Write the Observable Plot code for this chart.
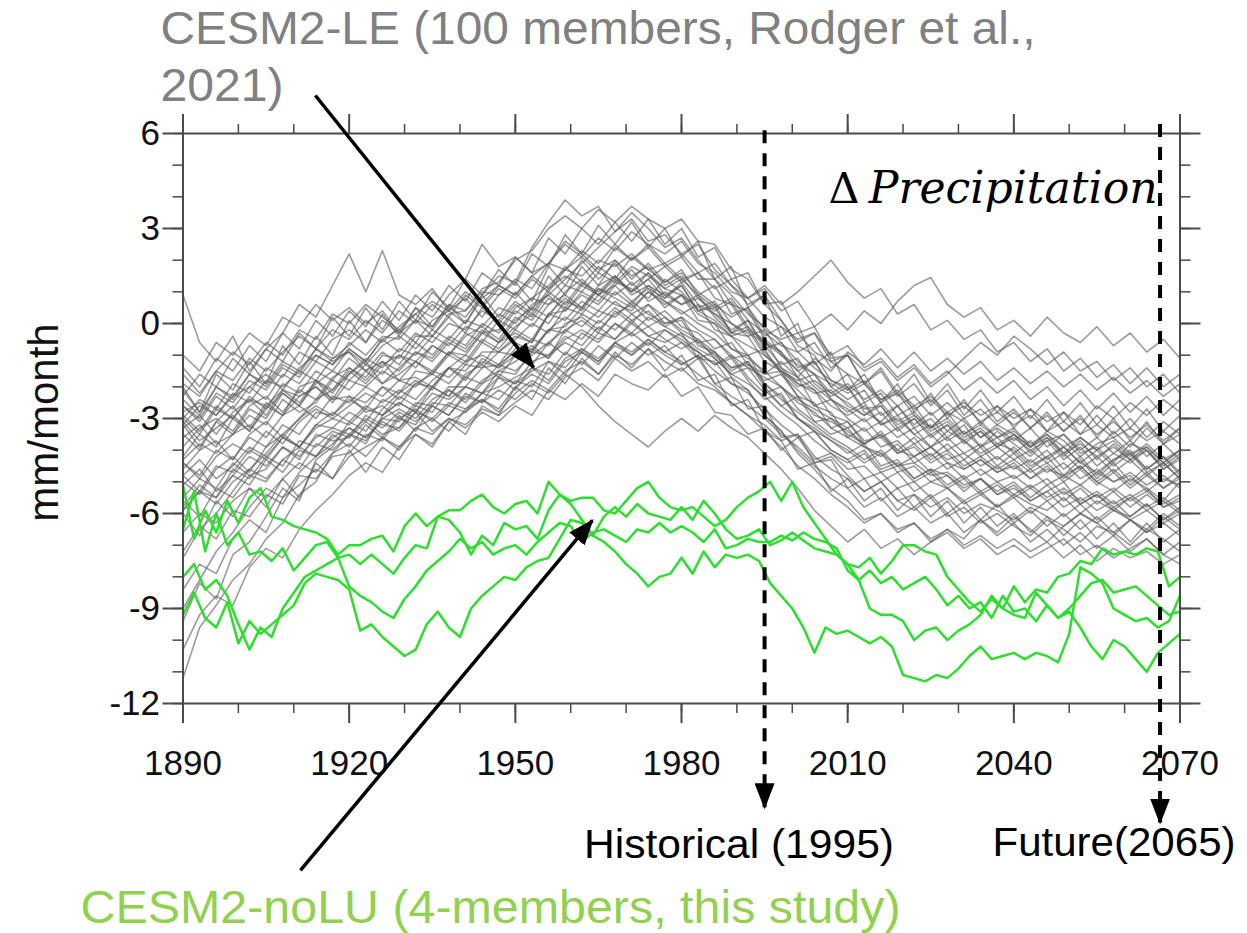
<!DOCTYPE html>
<html><head><meta charset="utf-8">
<script src="https://cdn.jsdelivr.net/npm/d3@7"></script>
<script src="https://cdn.jsdelivr.net/npm/@observablehq/plot@0.6"></script>
<style>html,body{margin:0;padding:0;background:#fff;} #chart svg{display:block;}</style>
</head><body><div id="chart"></div>
<script>
// ---------- data ----------
const yearsLE = d3.range(1890, 2071, 3);     // sampling grid of the LE members
const yearsNoLU = d3.range(1890, 2071, 2);   // sampling grid of the noLU members

// CESM2-LE members (read approx. from the picture; mm/month anomalies)
const leMembers = [
[0.9,-0.6,-1.2,-0.4,-1.5,-0.8,-0.3,0.6,0.2,1.2, 2.2,1.0,2.3,0.9,0.6,1.1,0.4,0.8,0.2,0.9, 1.3,0.7,1.8,1.2,2.0,1.4,1.9,1.2,1.6,0.9, 1.2,0.4,0.6,-0.3,0.1,-0.8,-0.6,-1.4,-1.2,-2.0, -1.6,-2.5,-2.2,-2.9,-2.6,-3.3,-2.8,-3.5,-3.1,-3.6, -3.3,-3.9,-3.5,-4.1,-3.6,-4.0,-3.4,-3.9,-3.3,-3.8,-3.5],
[-3.2,-3.9,-3.1,-2.6,-3.3,-2.5,-2.9,-2.0,-1.8,-2.4, -1.6,-1.2,-1.9,-1.4,-0.9,-1.1,-0.5,-0.8,-0.2,-0.6, 0.1,0.5,0.2,1.0,1.4,0.9,1.2,1.7,1.1,0.8, 1.3,0.6,0.3,-0.2,0.1,-0.7,-1.3,-1.1,-1.9,-2.3, -2.0,-2.8,-3.1,-2.6,-3.3,-3.0,-3.6,-3.2,-3.9,-3.4, -3.8,-4.2,-3.7,-3.5,-4.1,-3.9,-4.4,-3.8,-4.0,-4.6,-4.2],
[-5.8,-5.1,-5.5,-4.6,-4.9,-4.2,-4.5,-3.7,-3.9,-3.4, -3.6,-2.9,-3.2,-3.3,-2.6,-2.8,-2.1,-2.5,-1.9,-1.6, -1.9,-1.2,-1.0,-0.6,-0.9,-0.3,-0.5,0.1,-0.4,-0.2, -0.6,-0.9,-1.3,-1.1,-1.8,-2.4,-2.2,-3.0,-3.4,-3.7, -4.1,-3.8,-4.5,-4.3,-4.9,-4.6,-4.8,-5.2,-4.9,-5.4, -5.1,-5.6,-5.3,-5.0,-5.7,-5.4,-5.9,-5.5,-5.2,-5.8,-5.6],
[-2.1,-2.8,-2.0,-2.4,-1.6,-1.9,-1.2,-1.5,-0.8,-1.1, -0.7,-0.2,-0.6,-0.1,0.3,-0.2,0.5,0.2,0.9,1.5, 1.3,2.4,3.2,3.9,3.4,3.7,2.9,3.3,2.6,2.8, 2.2,2.5,1.7,1.2,0.6,0.9,0.1,-0.6,-0.3,-1.2, -1.6,-1.9,-2.5,-2.2,-2.9,-3.3,-2.8,-3.1,-3.6,-3.2, -3.5,-3.9,-3.4,-3.7,-4.2,-3.8,-3.6,-4.1,-3.9,-4.4,-4.0],
[-11.2,-9.6,-8.9,-8.1,-7.6,-6.8,-6.3,-5.4,-5.0,-4.1, -3.5,-3.8,-2.9,-2.5,-2.8,-2.0,-2.3,-1.6,-1.3,-1.7, -1.0,-0.7,-1.1,-0.2,0.1,-0.3,0.4,0.0,0.6,0.2, -0.2,-0.5,-0.9,-1.4,-1.2,-2.0,-2.6,-2.3,-3.1,-3.5, -3.3,-3.9,-4.2,-3.8,-4.4,-4.1,-4.6,-4.3,-4.8,-4.5, -4.9,-4.6,-5.1,-4.8,-4.5,-5.0,-5.3,-4.9,-5.2,-5.6,-5.0],
[-9.4,-8.2,-8.7,-7.3,-6.9,-6.1,-5.2,-5.6,-4.3,-3.9, -3.1,-3.4,-2.7,-2.2,-1.8,-2.1,-1.4,-1.0,-1.3,-0.6, -0.3,-0.6,0.3,0.8,0.4,1.1,0.9,1.3,0.7,1.0, 0.6,0.9,0.2,-0.3,-0.1,-0.9,-1.5,-1.8,-1.6,-2.4, -2.8,-2.5,-3.2,-3.0,-3.5,-3.9,-3.4,-3.7,-4.1,-3.8, -4.0,-4.5,-4.2,-3.9,-4.4,-4.7,-4.3,-4.0,-4.6,-4.2,-4.8],
[-8.4,-7.6,-7.9,-6.8,-6.2,-6.6,-5.5,-5.1,-4.6,-4.9, -4.2,-3.9,-3.6,-4.0,-3.3,-3.0,-3.4,-2.7,-2.4,-2.8, -2.2,-1.8,-2.1,-1.5,-1.2,-1.6,-1.0,-1.3,-0.8,-1.2, -1.5,-1.1,-1.9,-2.3,-2.6,-3.0,-3.5,-3.9,-4.4,-4.2, -4.8,-5.3,-5.0,-5.6,-5.9,-5.5,-6.1,-5.8,-6.3,-6.0, -6.4,-6.7,-6.2,-6.5,-6.9,-6.4,-6.6,-7.0,-6.5,-6.8,-7.2],
[-1.9,-2.3,-1.5,-1.8,-1.1,-1.5,-0.9,-0.4,-0.8,-0.2, -0.5,0.1,-0.3,0.4,0.0,0.6,0.2,0.9,0.5,1.1, 0.8,1.4,1.0,1.7,2.1,1.6,2.4,2.0,2.5,1.9, 2.2,1.6,1.9,1.2,0.8,1.1,0.4,0.7,-0.1,0.3, -0.2,0.4,0.0,0.7,1.2,1.45,0.6,0.2,0.5,-0.2, 0.1,-0.4,0.2,-0.3,-0.6,-0.1,-0.7,-0.3,-0.9,-0.5,-1.1],
[-4.2,-3.5,-3.9,-3.0,-3.4,-2.7,-2.2,-2.6,-1.9,-1.5, -1.8,-1.3,-1.6,-1.0,-1.2,-0.7,-1.0,-0.4,-0.1,-0.5, 0.2,-0.1,0.6,0.9,0.5,1.2,1.5,1.0,1.4,1.8, 1.3,1.6,1.1,1.4,0.8,1.2,0.6,1.0,1.5,2.0, 1.3,0.8,1.1,0.3,0.6,-0.2,0.1,-0.5,-0.2,-0.9, -0.6,-1.2,-0.8,-1.5,-1.1,-1.7,-1.3,-1.9,-1.4,-2.0,-1.6],
[-5.1,-4.6,-5.3,-4.8,-4.2,-4.5,-3.9,-4.2,-3.6,-3.3, -3.5,-3.0,-3.3,-2.8,-3.1,-2.6,-2.9,-2.3,-2.5,-2.1, -2.4,-1.9,-2.2,-1.6,-2.0,-2.6,-3.1,-3.5,-3.9,-3.4, -3.0,-3.4,-2.9,-3.3,-3.6,-4.1,-4.6,-5.2,-5.9,-6.4, -6.9,-6.5,-7.1,-6.8,-7.3,-6.9,-6.5,-6.8,-6.2,-6.6, -6.1,-6.5,-6.9,-6.4,-6.0,-6.3,-6.7,-6.2,-6.5,-6.0,-6.4],
[-2.9,-3.4,-2.6,-3.0,-2.3,-2.7,-1.9,-2.2,-1.5,-1.8, -1.1,-1.5,-0.9,-1.3,-0.6,-1.0,-0.4,-0.7,0.0,-0.3, 0.4,0.1,0.8,0.5,1.2,0.9,1.4,1.0,1.6,1.1, 0.9,0.5,0.7,0.0,-0.4,-0.2,-1.0,-1.5,-1.2,-2.0, -2.4,-2.1,-2.9,-2.6,-3.2,-2.8,-3.4,-3.0,-3.6,-3.3, -3.7,-3.3,-3.9,-3.5,-4.0,-3.6,-4.1,-3.7,-4.2,-3.8,-4.3],
[-4.6,-4.0,-3.7,-4.3,-3.5,-3.1,-3.6,-3.0,-2.6,-2.9, -2.3,-2.5,-2.0,-2.4,-1.9,-1.6,-1.9,-1.3,-1.4,-0.9, -1.0,-0.5,-0.7,0.0,0.2,-0.2,0.3,0.6,0.1,0.4, -0.1,-0.3,-0.8,-0.6,-1.3,-1.8,-1.6,-2.3,-2.9,-3.1, -3.4,-3.8,-3.5,-4.0,-4.2,-3.9,-4.4,-4.6,-4.3,-4.7, -4.5,-4.9,-4.6,-4.8,-5.1,-4.7,-5.0,-4.8,-5.3,-4.9,-5.1],
[-3.0,-2.4,-2.7,-1.9,-2.2,-1.4,-1.7,-0.9,-1.2,-0.5, -0.2,-0.6,0.1,-0.3,0.5,0.2,0.9,1.4,2.5,1.8, 2.1,1.6,1.9,2.6,2.2,1.7,2.0,1.5,1.8,1.2, 1.5,0.8,0.4,0.7,-0.1,-0.6,-0.9,-1.5,-2.0,-2.4, -2.7,-3.1,-2.8,-3.4,-3.0,-3.5,-3.2,-3.7,-3.4,-3.9, -3.6,-4.0,-3.7,-4.3,-3.9,-4.5,-4.1,-4.4,-4.0,-4.6,-4.3],
[-6.6,-6.0,-6.3,-5.6,-5.2,-5.5,-4.9,-4.4,-4.7,-4.1, -3.8,-4.2,-3.6,-3.9,-3.3,-3.5,-3.0,-3.2,-2.7,-2.9, -2.5,-2.1,-2.4,-1.7,-1.4,-1.8,-1.1,-1.5,-1.2,-1.7, -1.4,-1.9,-2.1,-2.5,-2.9,-3.2,-3.7,-3.5,-4.2,-4.6, -4.9,-5.3,-5.0,-5.6,-5.4,-5.8,-5.5,-6.0,-5.7,-5.9, -6.2,-5.8,-6.1,-6.4,-6.0,-6.3,-5.9,-6.2,-6.6,-6.1,-6.5],
[-2.6,-3.1,-2.3,-2.7,-2.0,-1.6,-2.1,-1.4,-1.0,-1.3, -0.8,-1.2,-0.5,-0.9,-0.3,-0.6,0.0,-0.2,0.4,0.1, 0.7,0.3,1.1,1.5,1.2,1.8,1.4,2.1,1.7,1.3, 1.6,1.0,0.6,0.2,0.5,-0.2,-0.5,-0.3,-0.9,-1.2, -1.0,-1.5,-1.2,-1.8,-1.4,-2.0,-1.6,-1.1,-0.6,-1.0, -0.4,-0.8,-1.3,-0.9,-1.5,-1.2,-1.8,-1.4,-2.0,-1.6,-2.2],
[-5.0,-5.4,-4.6,-4.2,-4.7,-3.9,-3.5,-3.9,-3.2,-2.8, -3.1,-2.6,-2.9,-2.3,-2.6,-2.0,-2.3,-1.7,-1.9,-1.3, -1.5,-1.0,-0.6,-1.0,-0.3,-0.6,0.0,-0.4,-0.1,-0.5, -0.8,-0.5,-1.1,-1.6,-1.4,-2.1,-2.6,-3.0,-3.3,-3.7, -4.0,-4.4,-4.1,-4.7,-4.5,-5.0,-4.8,-5.3,-4.9,-5.4, -5.2,-5.6,-5.3,-5.8,-5.5,-5.9,-5.6,-6.1,-5.7,-6.2,-5.9],
[-3.6,-3.2,-3.8,-3.5,-2.9,-3.2,-2.4,-2.8,-2.5,-1.8, -2.1,-1.5,-1.9,-1.6,-1.2,-1.6,-1.0,-1.3,-0.6,-0.9, -0.5,0.0,-0.3,0.5,0.3,0.9,0.6,0.4,1.0,0.7, 0.3,0.6,-0.2,-0.4,-1.0,-0.8,-1.6,-2.1,-2.6,-2.4, -3.0,-3.4,-3.1,-3.6,-3.3,-3.9,-3.6,-4.1,-3.8,-4.3, -3.9,-4.4,-4.0,-4.6,-4.2,-4.8,-4.3,-4.1,-4.7,-4.4,-4.9],
[-7.4,-6.5,-6.0,-5.3,-4.6,-4.1,-3.5,-3.0,-2.4,-2.1, -1.6,-1.1,-1.4,-0.8,-1.0,-0.4,-0.7,-0.1,-0.3,0.3, 0.0,0.6,0.9,0.4,1.0,0.7,1.3,1.1,0.8,1.4, 1.0,0.4,0.1,-0.4,-0.7,-1.0,-1.4,-1.9,-2.2,-2.1, -2.6,-2.9,-2.5,-3.1,-2.8,-3.3,-3.0,-3.5,-3.2,-3.6, -3.4,-3.8,-3.5,-3.9,-3.6,-4.0,-3.7,-4.2,-3.8,-4.3,-4.0],
[-4.4,-4.9,-4.2,-3.8,-4.1,-3.4,-3.8,-3.1,-2.7,-3.0, -2.6,-2.2,-2.5,-2.1,-2.4,-1.8,-1.4,-1.7,-1.2,-1.4, -1.0,-1.3,-0.6,-0.2,-0.5,0.1,-0.2,0.3,-0.1,0.2, -0.3,-0.6,-1.0,-1.5,-1.2,-1.9,-2.4,-2.8,-3.2,-3.6, -3.9,-4.3,-4.0,-4.5,-4.2,-4.7,-4.4,-4.9,-4.6,-5.0, -4.8,-5.2,-4.9,-5.4,-5.1,-5.5,-5.2,-5.6,-5.3,-5.7,-5.4],
[-3.3,-2.9,-3.5,-2.8,-2.4,-2.9,-2.1,-2.5,-1.8,-2.2, -1.5,-1.9,-1.3,-1.0,-1.4,-0.7,-1.0,-0.3,-0.6,0.1, -0.2,0.5,0.9,1.4,1.9,2.4,2.9,3.5,3.0,2.4, 2.7,2.0,1.4,0.9,0.3,-0.1,-0.6,-1.2,-1.6,-2.2, -2.5,-2.9,-2.6,-3.2,-2.9,-3.4,-3.1,-3.6,-3.3,-3.8, -3.5,-3.9,-3.6,-4.1,-3.8,-4.2,-3.9,-4.3,-4.0,-4.5,-4.1],
[-5.9,-5.3,-5.7,-5.0,-4.6,-4.9,-4.3,-3.9,-4.2,-3.6, -3.3,-3.6,-3.1,-3.4,-2.8,-3.0,-2.5,-2.7,-2.2,-2.0, -1.7,-1.4,-1.8,-1.1,-0.8,-1.2,-0.6,-0.9,-0.5,-0.9, -1.2,-1.6,-2.0,-2.5,-2.9,-3.4,-3.9,-4.5,-4.9,-5.4, -5.8,-6.3,-6.0,-6.6,-6.3,-6.9,-6.6,-7.1,-6.8,-7.3, -7.0,-7.4,-7.1,-6.8,-7.3,-7.0,-7.4,-7.1,-6.8,-7.3,-7.6],
[-2.8,-2.5,-2.9,-2.2,-2.5,-1.8,-2.0,-1.5,-1.8,-1.1, -0.9,-1.3,-0.7,-0.4,-0.8,-0.2,-0.5,0.1,-0.1,0.5, 0.3,0.8,0.6,1.2,1.0,1.6,1.3,1.8,1.5,1.1, 1.4,0.9,0.5,0.8,0.1,-0.3,-0.7,-0.9,-1.4,-1.8, -2.1,-1.8,-2.4,-2.2,-2.7,-2.4,-2.9,-2.6,-3.1,-2.8, -3.2,-2.9,-3.4,-3.1,-3.5,-3.2,-3.6,-3.3,-3.7,-3.4,-3.8],
[-10.3,-9.2,-8.6,-8.9,-7.7,-7.1,-7.4,-6.5,-5.9,-5.4, -4.8,-4.4,-4.7,-3.9,-3.5,-3.8,-3.1,-2.8,-2.4,-2.7, -2.0,-1.6,-1.9,-1.2,-0.9,-1.3,-0.6,-0.3,-0.7,-0.2, -0.5,-0.9,-1.3,-1.0,-1.7,-2.2,-2.0,-2.7,-3.1,-3.0, -3.5,-3.8,-3.5,-4.1,-3.8,-4.3,-4.0,-4.5,-4.2,-4.6, -4.3,-4.7,-4.4,-4.9,-4.5,-5.0,-4.6,-5.1,-4.7,-5.2,-4.8],
[-3.9,-3.3,-3.0,-3.4,-2.6,-2.3,-2.8,-2.1,-2.4,-1.7, -1.4,-1.8,-1.2,-1.5,-0.9,-1.2,-0.6,-0.9,-0.3,-0.6, -0.1,0.3,0.0,0.7,0.5,1.1,0.8,0.5,1.0,0.6, 0.9,0.3,0.0,-0.4,-0.2,-1.0,-1.5,-1.9,-2.1,-2.6, -2.9,-2.6,-3.2,-2.9,-3.5,-3.2,-3.7,-3.4,-3.9,-3.6, -4.1,-3.7,-4.3,-3.9,-4.4,-4.0,-4.5,-4.1,-4.6,-4.2,-4.7],
[-4.3,-3.8,-4.1,-3.5,-3.2,-3.6,-2.9,-2.6,-3.0,-2.3, -2.5,-2.0,-2.3,-1.8,-2.0,-1.5,-1.7,-1.2,-1.0,-1.3, -0.6,-0.9,-0.2,0.2,-0.1,0.4,0.2,0.7,0.3,0.0, 0.2,-0.2,-0.5,-1.0,-1.4,-1.7,-2.0,-2.5,-2.8,-3.3, -3.6,-3.3,-3.9,-3.7,-4.2,-3.9,-4.3,-4.1,-4.5,-4.2, -4.6,-4.3,-4.7,-4.4,-4.9,-4.6,-5.0,-4.7,-5.1,-4.8,-5.2],
[-1.6,-2.2,-1.5,-0.9,-1.3,-0.6,-1.0,-0.2,-0.5,0.3, 0.0,0.6,0.2,-0.2,0.3,0.7,0.4,1.0,0.6,1.2, 0.9,1.5,1.1,1.8,1.3,1.0,1.5,0.9,1.2,0.7, 0.4,0.0,-0.3,-0.8,-1.1,-1.5,-2.0,-2.4,-2.7,-3.0, -3.3,-3.0,-3.6,-3.3,-3.8,-3.5,-4.0,-3.7,-4.2,-3.9, -4.3,-4.0,-4.4,-4.1,-4.6,-4.2,-4.7,-4.3,-4.8,-4.4,-4.9],
[-4.8,-4.3,-4.9,-4.5,-3.9,-4.2,-3.6,-3.9,-3.3,-3.0, -3.2,-2.7,-2.9,-2.5,-2.8,-2.2,-2.4,-2.0,-2.2,-1.7, -1.9,-1.5,-1.2,-1.6,-0.9,-1.2,-0.7,-1.0,-0.6,-1.0, -1.3,-1.0,-1.5,-1.9,-2.2,-2.7,-3.2,-3.6,-3.4,-4.0, -4.3,-4.0,-4.6,-4.4,-4.9,-4.6,-5.1,-4.8,-5.3,-5.0, -5.4,-5.1,-5.5,-5.2,-5.6,-5.3,-5.7,-5.4,-5.8,-5.5,-5.9],
[-3.1,-3.7,-3.3,-2.9,-3.4,-2.6,-2.9,-2.3,-2.0,-2.5, -1.8,-2.0,-1.5,-1.8,-1.2,-1.5,-0.9,-1.2,-0.5,-0.8, -0.2,-0.5,0.3,0.1,0.7,0.4,1.0,0.6,1.2,0.9, 0.6,0.8,0.3,0.0,-0.3,-0.6,-1.0,-1.3,-1.6,-1.9, -2.2,-1.9,-2.4,-2.1,-2.6,-2.3,-2.8,-2.5,-2.9,-2.6, -3.0,-2.7,-3.1,-2.8,-3.2,-2.6,-3.0,-2.5,-2.9,-2.4,-2.8],
[-9.0,-8.1,-7.2,-6.6,-5.8,-5.2,-5.5,-4.7,-4.2,-3.8, -3.3,-3.6,-3.0,-2.7,-3.0,-2.4,-2.1,-2.4,-1.8,-1.5, -1.2,-0.8,-1.1,-0.5,-0.2,-0.5,0.0,-0.3,0.2,-0.1, -0.4,-0.8,-1.1,-1.6,-1.9,-2.3,-2.8,-3.2,-3.7,-4.1, -4.4,-4.1,-4.7,-4.5,-5.0,-4.7,-5.2,-4.9,-5.4,-5.1, -5.5,-5.2,-5.6,-5.3,-5.7,-5.4,-5.8,-5.5,-5.9,-5.6,-6.0],
[-2.0,-2.8,-1.6,-2.1,-1.2,-1.9,-0.7,-1.3,-0.4,-1.0, 0.1,-0.6,0.3,-0.4,0.5,-0.1,0.6,0.0,0.9,0.2, 1.0,0.4,1.5,0.9,1.8,1.2,2.0,1.4,1.9,1.3, 1.7,0.9,1.2,0.3,0.5,-0.4,-0.1,-0.9,-0.6,-1.4, -1.0,-1.9,-1.4,-2.2,-1.6,-2.5,-1.9,-2.7,-2.1,-2.8, -2.3,-3.0,-2.4,-3.1,-2.5,-3.2,-2.6,-3.3,-2.7,-3.4,-2.9],
[-6.0,-6.7,-5.6,-6.1,-5.2,-5.8,-4.9,-5.5,-4.4,-4.9, -4.0,-4.7,-3.9,-4.3,-3.5,-3.9,-3.1,-3.5,-2.6,-2.9, -2.0,-2.4,-1.4,-1.9,-1.1,-1.6,-0.9,-1.4,-0.8,-1.5, -1.0,-1.8,-1.6,-2.6,-2.4,-3.4,-3.7,-4.6,-4.4,-5.3, -4.9,-5.6,-5.2,-5.9,-5.4,-6.1,-5.6,-6.3,-5.8,-6.4, -6.0,-6.6,-6.1,-6.7,-6.2,-6.8,-6.3,-6.9,-6.3,-6.9,-6.5],
[-1.4,-2.0,-1.1,-1.5,-0.7,-1.2,-0.3,-0.8,0.1,-0.4, 0.4,-0.1,0.7,0.1,0.9,0.4,1.2,0.7,1.6,1.2, 2.1,1.6,2.7,2.2,3.0,2.5,3.2,2.6,3.3,2.5, 3.0,2.1,2.4,1.4,1.6,0.6,0.7,-0.3,-0.1,-1.1, -1.0,-1.9,-1.5,-2.3,-1.9,-2.6,-2.1,-2.9,-2.4,-3.1, -2.7,-3.3,-2.8,-3.4,-2.9,-3.6,-3.0,-3.7,-3.1,-3.8,-3.3],
[-5.5,-4.9,-5.2,-4.4,-4.8,-4.6,-3.9,-4.3,-3.5,-3.7, -3.6,-3.1,-3.5,-3.3,-2.8,-3.4,-3.0,-3.3,-2.8,-3.1, -2.6,-2.9,-2.1,-2.4,-1.9,-2.3,-1.6,-1.9,-2.1,-1.6, -2.3,-2.0,-2.8,-2.9,-3.5,-3.3,-4.0,-3.6,-4.3,-4.1, -4.6,-4.5,-5.0,-4.7,-5.3,-5.0,-5.2,-5.6,-5.3,-5.8, -5.4,-5.7,-5.9,-5.5,-6.0,-5.6,-5.9,-6.1,-5.7,-6.2,-5.8],
[-3.2,-2.6,-2.9,-2.3,-2.0,-2.4,-1.6,-1.9,-1.2,-1.5, -0.8,-1.2,-0.5,-0.2,-0.6,0.1,0.4,0.0,0.8,1.2, 0.9,1.5,1.9,2.5,2.1,2.7,2.3,2.9,2.5,2.2, 2.6,1.9,1.6,1.0,0.8,0.2,-0.1,-0.5,-0.3,-1.0, -0.7,-1.4,-1.1,-1.7,-1.3,-1.9,-1.5,-2.1,-1.7,-2.2, -1.8,-2.4,-2.0,-2.6,-2.1,-2.7,-2.2,-2.8,-2.3,-2.9,-2.4],
[-7.2,-6.4,-6.8,-5.9,-6.1,-5.4,-5.7,-4.8,-4.9,-4.2, -4.1,-3.5,-3.7,-3.0,-3.2,-2.5,-2.6,-2.0,-2.2,-1.5, -1.6,-0.9,-1.0,-0.4,-0.7,-0.1,-0.5,0.0,-0.4,-0.6, -0.3,-1.1,-1.2,-1.9,-2.1,-2.9,-3.4,-4.0,-4.5,-4.9, -5.2,-5.8,-5.5,-6.1,-5.8,-6.3,-6.0,-6.6,-6.2,-6.7, -6.3,-6.9,-6.5,-7.0,-6.6,-7.1,-6.7,-7.2,-6.8,-7.3,-6.9],
[-2.4,-2.9,-2.0,-2.3,-1.6,-2.0,-1.3,-1.6,-0.8,-1.2, -0.9,-1.5,-1.2,-1.8,-1.7,-2.0,-1.4,-1.8,-1.1,-1.4, -0.8,-0.9,-0.2,-0.3,0.3,0.0,0.5,0.1,0.4,-0.1, 0.2,-0.6,-0.5,-1.1,-1.0,-1.6,-1.5,-2.0,-1.8,-2.2, -1.9,-2.4,-2.1,-2.6,-2.3,-2.9,-2.5,-3.0,-2.7,-3.2, -2.8,-3.3,-2.9,-3.4,-3.0,-3.5,-3.1,-3.6,-3.2,-3.7,-3.3],
[-4.4,-4.8,-4.0,-4.3,-3.6,-3.9,-3.2,-3.5,-2.8,-2.9, -2.4,-2.7,-2.0,-2.2,-1.5,-1.6,-0.9,-1.0,-0.3,-0.2, 0.5,0.8,1.2,1.7,1.5,2.0,1.8,2.2,1.7,1.9, 1.4,1.6,0.8,0.6,-0.2,-0.5,-1.4,-1.7,-2.6,-2.8, -3.6,-3.9,-4.1,-4.5,-4.4,-4.8,-4.7,-5.1,-4.9,-5.3, -5.0,-5.5,-5.1,-5.6,-5.2,-5.7,-5.3,-5.8,-5.4,-5.8,-5.5],
[-1.0,-1.5,-0.6,-1.0,-0.3,-0.7,0.2,-0.1,0.6,0.1, 0.5,0.0,0.4,-0.3,0.1,-0.4,0.2,-0.3,0.5,0.0, 0.6,0.2,1.0,0.6,1.3,0.9,1.5,1.0,1.4,0.8, 1.2,0.4,0.5,-0.3,-0.4,-1.2,-1.5,-2.3,-2.5,-3.3, -3.1,-3.8,-3.4,-4.0,-3.6,-4.2,-3.8,-4.3,-3.9,-4.5, -4.1,-4.6,-4.2,-4.8,-4.3,-4.9,-4.4,-5.0,-4.5,-5.0,-4.6],
[-5.6,-6.1,-5.2,-5.5,-4.8,-5.0,-4.3,-4.6,-3.8,-4.0, -3.5,-3.7,-3.0,-3.1,-2.5,-2.6,-2.0,-2.0,-1.4,-1.3, -0.9,-0.8,-0.2,-0.1,0.5,0.2,0.7,0.3,0.6,0.0, 0.1,-0.7,-0.9,-1.7,-2.1,-2.9,-3.4,-4.1,-4.6,-5.2, -5.6,-6.2,-6.0,-6.5,-6.3,-6.8,-6.5,-7.0,-6.7,-7.1, -6.8,-7.2,-6.9,-7.4,-7.0,-7.5,-7.1,-7.4,-7.2,-7.6,-7.3],
[-3.5,-4.0,-3.1,-3.5,-2.7,-3.0,-2.2,-2.6,-1.8,-2.1, -1.4,-1.7,-1.0,-1.1,-0.4,-0.4,0.3,0.4,1.1,1.3, 2.0,2.3,3.0,3.4,3.0,3.6,3.2,3.7,3.3,3.0, 3.3,2.6,2.5,1.7,1.4,0.6,0.1,-0.7,-1.0,-1.8, -2.0,-2.7,-2.6,-3.3,-3.0,-3.6,-3.2,-3.8,-3.4,-3.9, -3.5,-4.1,-3.6,-4.2,-3.7,-4.3,-3.8,-4.3,-3.9,-4.4,-4.0],
[-3.0,-3.5,-2.7,-3.0,-2.4,-2.6,-2.1,-2.3,-2.0,-2.4, -2.3,-2.8,-2.6,-3.0,-2.7,-3.1,-2.6,-2.8,-2.2,-2.4, -1.8,-2.0,-1.2,-1.4,-0.8,-1.1,-0.6,-1.0,-0.5,-0.9, -0.6,-1.1,-0.9,-1.4,-1.3,-1.6,-1.2,-1.7,-1.1,-1.5, -0.9,-1.3,-0.8,-1.4,-0.9,-1.5,-1.1,-1.6,-1.2,-1.8, -1.4,-1.9,-1.5,-2.0,-1.6,-2.1,-1.7,-2.2,-1.8,-2.3,-1.9],
[-4.8,-5.3,-4.5,-4.7,-4.0,-4.3,-3.6,-3.9,-3.2,-3.3, -2.8,-3.1,-2.4,-2.6,-1.9,-2.0,-1.4,-1.5,-0.9,-0.9, -0.4,-0.6,0.3,0.4,0.9,0.6,1.2,0.7,1.1,0.5, 0.9,0.1,0.0,-0.8,-1.0,-1.9,-2.3,-3.0,-3.4,-4.0, -4.3,-4.9,-4.7,-5.2,-5.0,-5.5,-5.2,-5.7,-5.4,-5.8, -5.5,-6.0,-5.6,-6.1,-5.7,-6.2,-5.8,-6.2,-5.9,-6.3,-6.0],
[-2.6,-3.0,-2.2,-2.5,-1.8,-2.1,-1.4,-1.7,-1.0,-1.3, -0.6,-1.0,-0.4,-0.5,0.1,-0.1,0.6,0.4,1.0,0.9, 1.4,1.1,1.9,1.7,2.3,1.9,2.5,2.0,2.4,1.8, 2.1,1.4,1.4,0.6,0.4,-0.5,-0.9,-1.7,-2.1,-2.9, -3.1,-3.7,-3.6,-4.1,-3.9,-4.4,-4.1,-4.6,-4.3,-4.7, -4.4,-4.9,-4.5,-5.0,-4.6,-5.1,-4.7,-5.2,-4.8,-5.2,-4.9],
[-2.3,-1.6,-2.0,-1.1,-1.6,-0.8,-1.2,-0.3,-0.8,0.2, -0.4,0.5,-0.2,0.7,0.1,1.0,0.5,1.4,0.9,1.7, 1.2,2.2,1.8,2.8,2.2,3.1,2.5,3.2,2.4,3.0, 2.1,2.6,1.4,1.8,0.5,0.9,-0.4,0.0,-1.3,-0.9, -2.1,-1.6,-2.5,-1.9,-2.8,-2.2,-3.0,-2.4,-3.2,-2.6, -3.3,-2.7,-3.4,-2.8,-3.5,-2.9,-3.5,-3.0,-3.6,-3.1,-3.5],
[-5.9,-5.3,-5.5,-4.8,-5.1,-4.3,-4.7,-4.0,-4.2,-3.5, -3.9,-3.2,-3.6,-2.9,-3.4,-2.6,-2.9,-2.2,-2.5,-1.7, -2.1,-1.4,-1.6,-0.9,-1.3,-0.7,-1.1,-0.6,-1.0,-0.7, -1.3,-1.0,-1.9,-1.7,-2.7,-2.6,-3.6,-3.5,-4.4,-4.3, -5.2,-4.9,-5.6,-5.2,-5.8,-5.4,-6.0,-5.6,-6.2,-5.7, -6.3,-5.9,-6.4,-6.0,-6.5,-6.1,-6.6,-6.2,-6.6,-6.3,-6.7]
];

// CESM2-noLU members (4 members, this study)
const noLUMembers = [
[-5.1,-6.8,-5.9,-6.6,-5.6,-6.3,-5.5,-5.2,-6.1,-6.2, -6.4,-6.5,-6.6,-6.8,-7.3,-7.0,-7.0,-6.8,-6.7,-7.2, -6.4,-6.0,-6.4,-6.1,-5.9,-5.9,-5.6,-5.4,-5.8,-6.0, -5.7,-5.6,-6.0,-5.0,-5.4,-5.6,-5.5,-5.5,-5.9,-6.0, -5.6,-5.2,-5.0,-5.5,-5.8,-5.9,-5.8,-6.1,-6.4,-6.2, -5.8,-5.5,-5.3,-5.0,-5.6,-5.0,-5.8,-6.3,-6.8,-7.3, -7.6,-8.1,-9.0,-9.2,-9.2,-9.4,-10.0,-9.7,-9.6,-10.0, -9.7,-9.5,-9.2,-8.6,-9.0,-9.2,-9.3,-8.5,-8.9,-9.3, -9.1,-9.6,-10.2,-10.6,-10.0,-10.2,-10.6,-11.0,-10.4,-10.1, -9.8],
[-6.5,-5.3,-7.2,-6.0,-7.0,-6.6,-7.3,-7.2,-7.5,-7.1, -7.8,-7.4,-7.0,-6.9,-7.4,-7.3,-7.6,-7.3,-7.6,-7.9, -7.4,-7.0,-7.1,-6.1,-6.2,-6.6,-7.3,-6.7,-7.0,-6.3, -6.5,-6.4,-6.8,-5.9,-5.4,-5.7,-6.2,-6.7,-6.1,-5.8, -6.1,-5.7,-6.0,-6.1,-6.2,-5.8,-6.2,-5.6,-6.0,-6.5, -6.8,-6.7,-6.5,-7.0,-6.85,-6.6,-6.85,-7.1,-7.2,-7.3, -7.6,-7.7,-7.4,-7.9,-7.5,-7.0,-7.0,-7.2,-7.3,-8.0, -8.4,-8.8,-9.1,-8.7,-9.0,-8.3,-8.8,-8.4,-8.5,-8.0, -7.9,-7.5,-7.6,-7.1,-7.3,-7.2,-7.3,-7.1,-7.2,-8.3, -8.0],
[-8.0,-7.6,-8.4,-8.1,-8.6,-9.5,-10.3,-9.6,-9.9,-9.0, -8.5,-8.0,-7.8,-7.6,-7.4,-8.3,-8.6,-8.8,-9.1,-9.3, -8.7,-8.3,-7.8,-7.5,-7.2,-6.8,-7.1,-6.9,-7.3,-7.1, -7.0,-7.3,-6.9,-6.6,-6.3,-6.4,-6.9,-6.6,-6.5,-6.7, -6.9,-6.5,-6.6,-6.3,-6.6,-6.4,-6.6,-6.9,-6.5,-7.1, -7.0,-6.8,-6.9,-6.9,-6.7,-6.85,-6.6,-6.8,-6.9,-7.1, -7.8,-8.1,-7.8,-8.2,-8.0,-8.4,-8.2,-8.0,-8.4,-8.9, -8.6,-9.0,-8.8,-9.3,-8.6,-9.1,-9.0,-9.4,-8.9,-9.3, -9.0,-8.6,-8.2,-8.1,-8.5,-8.4,-8.3,-8.6,-8.9,-9.2, -9.1],
[-9.2,-8.5,-9.3,-9.6,-8.8,-10.1,-9.4,-9.8,-9.5,-9.2, -8.9,-8.2,-7.9,-8.0,-8.1,-8.4,-9.7,-9.5,-9.9,-10.2, -10.5,-10.3,-9.5,-9.1,-9.6,-9.9,-9.0,-8.6,-8.3,-8.0, -8.1,-7.7,-7.5,-7.4,-6.8,-6.2,-6.3,-6.7,-6.9,-7.2, -7.6,-7.9,-8.3,-8.0,-7.9,-7.4,-7.9,-7.2,-7.7,-7.3, -7.4,-7.3,-7.5,-8.2,-8.6,-9.0,-9.6,-10.4,-9.6,-9.8, -9.7,-9.9,-10.1,-9.9,-10.2,-11.1,-11.2,-11.3,-11.1,-11.2, -10.9,-10.5,-10.2,-10.6,-10.5,-10.4,-10.6,-10.4,-10.5,-10.7, -9.8,-7.7,-7.9,-8.2,-9.0,-9.2,-9.4,-9.3,-9.6,-9.4, -8.6]
];

// axes
const xMajorTicks = [1890, 1920, 1950, 1980, 2010, 2040, 2070];
const xMinorTicks = [1890, 1900, 1910, 1920, 1930, 1940, 1950, 1960, 1970, 1980, 1990, 2000, 2010, 2020, 2030, 2040, 2050, 2060, 2070];
const yMajorTicks = [-12, -9, -6, -3, 0, 3, 6];
const yMinorTicks = [-12, -11, -10, -9, -8, -7, -6, -5, -4, -3, -2, -1, 0, 1, 2, 3, 4, 5, 6];

// labels
const yUnit = "mm/month";
const leLabel = ["CESM2-LE (100 members, Rodger et al.,", "2021)"];
const noLULabel = "CESM2-noLU (4-members, this study)";
const periodLabels = ["Historical (1995)", "Future(2065)"];
const deltaSymbol = "Δ";
const varLabel = "Precipitation";

// ---------- tables ----------
const leTable = leMembers.flatMap((vals, m) => vals.map((v, i) => ({member: m, year: yearsLE[i], value: v})));
const noLUTable = noLUMembers.flatMap((vals, m) => vals.map((v, i) => ({member: m, year: yearsNoLU[i], value: v})));

// ---------- plot ----------
const tickColor = "#4a4a4a";
const sans = "'Liberation Sans', Arial, Helvetica, sans-serif";
const blank = () => "";

const chart = Plot.plot({
  width: 1247, height: 933,
  marginLeft: 182.5, marginRight: 67.5, marginTop: 133, marginBottom: 230,
  x: {domain: [1890, 2070], label: null},
  y: {domain: [-12, 6], label: null},
  style: {fontFamily: sans, background: "white", color: "#111"},
  marks: [
    Plot.line(leTable, {x: "year", y: "value", z: "member", stroke: "#5f5f5f", strokeOpacity: 0.62, strokeWidth: 1.6}),
    Plot.line(noLUTable, {x: "year", y: "value", z: "member", stroke: "#2ede2e", strokeWidth: 2.5}),
    Plot.frame({stroke: tickColor, strokeWidth: 2}),
    Plot.axisX({anchor: "bottom", ticks: xMajorTicks, tickSize: 20, tickPadding: 27, tickFormat: d => String(d), fontSize: 35, stroke: tickColor, strokeWidth: 2, label: null}),
    Plot.axisX({anchor: "bottom", ticks: xMinorTicks, tickSize: 10, tickFormat: blank, stroke: tickColor, strokeWidth: 1.5, label: null}),
    Plot.axisX({anchor: "top", ticks: xMajorTicks, tickSize: 20, tickFormat: blank, stroke: tickColor, strokeWidth: 2, label: null}),
    Plot.axisX({anchor: "top", ticks: xMinorTicks, tickSize: 10, tickFormat: blank, stroke: tickColor, strokeWidth: 1.5, label: null}),
    Plot.axisY({anchor: "left", ticks: yMajorTicks, tickSize: 20, tickPadding: 3, tickFormat: d => String(d), fontSize: 35, stroke: tickColor, strokeWidth: 2, label: null}),
    Plot.axisY({anchor: "left", ticks: yMinorTicks, tickSize: 10, tickFormat: blank, stroke: tickColor, strokeWidth: 1.5, label: null}),
    Plot.axisY({anchor: "right", ticks: yMajorTicks, tickSize: 20, tickFormat: blank, stroke: tickColor, strokeWidth: 2, label: null}),
    Plot.axisY({anchor: "right", ticks: yMinorTicks, tickSize: 10, tickFormat: blank, stroke: tickColor, strokeWidth: 1.5, label: null}),
    // y unit
    Plot.text([yUnit], {text: d => d, frameAnchor: "left", dx: -125.5, dy: 4, rotate: -90, textAnchor: "middle", lineAnchor: "bottom", fontSize: 42, fill: "#111"}),
    // Δ Precipitation
    Plot.text([deltaSymbol], {text: d => d, x: 2006.55, y: 3.82, textAnchor: "start", lineAnchor: "bottom", fontSize: 43, fontFamily: "'DejaVu Serif', serif", fill: "#000"}),
    Plot.text([varLabel], {text: d => d, x: 2013.8, y: 3.82, textAnchor: "start", lineAnchor: "bottom", fontSize: 45, fontStyle: "italic", fontFamily: "'DejaVu Serif', serif", fill: "#000"}),
    // dashed period markers
    Plot.link([periodLabels[0]], {x1: 1995, x2: 1995, y1: 6.1, y2: -15.28, stroke: "#000", strokeWidth: 4, strokeDasharray: "13,10", strokeLinecap: "butt"}),
    Plot.link([periodLabels[1]], {x1: 2066.4, x2: 2066.4, y1: 6.3, y2: -15.76, stroke: "#000", strokeWidth: 4, strokeDasharray: "13,10", strokeLinecap: "butt"}),
    // pointer arrows
    Plot.link([leLabel[0]], {x1: 1913.9, y1: 7.2, x2: 1953.3, y2: -1.39, stroke: "#000", strokeWidth: 3.5, strokeLinecap: "butt"}),
    Plot.link([noLULabel], {x1: 1911.2, y1: -17.27, x2: 1963.9, y2: -6.22, stroke: "#000", strokeWidth: 3.5, strokeLinecap: "butt"}),
    // annotation texts
    Plot.text([leLabel[0]], {text: d => d, x: 1885.94, y: 8.84, textAnchor: "start", lineAnchor: "bottom", fontSize: 46, fill: "#808080"}),
    Plot.text([leLabel[1]], {text: d => d, x: 1885.94, y: 7.04, textAnchor: "start", lineAnchor: "bottom", fontSize: 46, fill: "#808080"}),
    Plot.text([periodLabels[0]], {text: d => d, x: 1962.4, y: -16.89, textAnchor: "start", lineAnchor: "bottom", fontSize: 41, fill: "#000"}),
    Plot.text([periodLabels[1]], {text: d => d, x: 2036.15, y: -16.8, textAnchor: "start", lineAnchor: "bottom", fontSize: 41, fill: "#000"}),
    Plot.text([noLULabel], {text: d => d, x: 1871.5, y: -18.92, textAnchor: "start", lineAnchor: "bottom", fontSize: 46, fill: "#92d050"})
  ]
});

// fit annotation texts to their measured widths
const widths = new Map([[leLabel[0], 875], [leLabel[1], 123], [periodLabels[0], 310], [periodLabels[1], 243], [noLULabel, 820], [varLabel, 289]]);
const sel = d3.select(chart);
sel.selectAll("text").each(function () {
  const w = widths.get(this.textContent);
  if (w) { this.setAttribute("textLength", w); this.setAttribute("lengthAdjust", "spacingAndGlyphs"); }
});
// filled arrow heads on the link marks
const defs = sel.insert("defs", ":first-child");
defs.append("marker").attr("id", "ahead").attr("viewBox", "0 0 26 20").attr("refX", 24).attr("refY", 10)
  .attr("markerWidth", 26).attr("markerHeight", 20).attr("markerUnits", "userSpaceOnUse").attr("orient", "auto")
  .append("path").attr("d", "M0,0L26,10L0,20Z").attr("fill", "#000").attr("stroke", "none");
sel.selectAll('g[aria-label="link"] path, g[aria-label="link"] line').attr("marker-end", "url(#ahead)");

document.getElementById("chart").appendChild(chart);
</script>
</body></html>
